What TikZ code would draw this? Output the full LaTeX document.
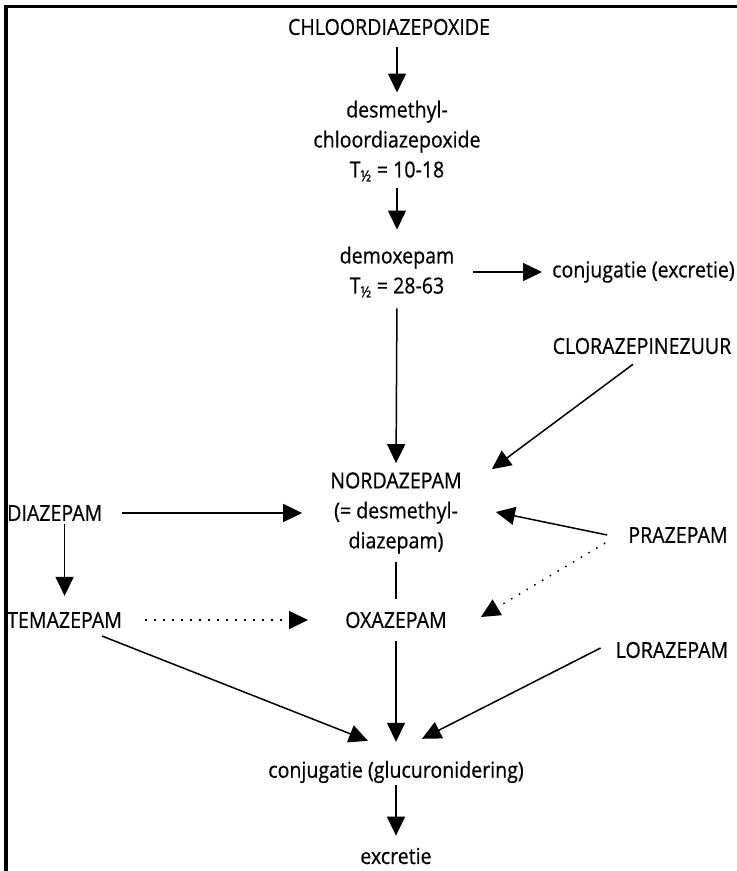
\documentclass[tikz,border=0pt]{standalone}
\usepackage{fontspec}
\setmainfont{Open Sans}[FakeStretch=0.89,FakeBold=0.6]
\usetikzlibrary{arrows.meta}

\tikzset{
  lbl/.style={inner sep=0pt, align=center},
  arr/.style={-{Triangle[width=18pt,length=19pt]}, line width=1.5pt},
  dotarr/.style={arr, dash pattern=on 1.5pt off 7.5pt},
  link/.style={line width=1.5pt}
}

\begin{document}
\begin{tikzpicture}[x=1pt,y=-1pt,font=\fontsize{22pt}{30pt}\selectfont]
\useasboundingbox (0,0) rectangle (737,871);
% frame
\draw[line width=3.5pt] (6,871) -- (6,6.5) -- (737,6.5);

% chloordiazepoxide chain
\node[lbl] (chlo) at (389,27) {CHLOORDIAZEPOXIDE};
\node[lbl] (desm) at (397,141) {desmethyl-\\chloordiazepoxide\\T\textsubscript{½} = 10-18};
\node[lbl] (demox) at (397,272) {demoxepam\\T\textsubscript{½} = 28-63};
\node[lbl, anchor=west] (conjex) at (552,272) {conjugatie (excretie)};
\node[lbl] (cloraz) at (642,346) {CLORAZEPINEZUUR};

% middle
\node[lbl] (nord) at (396,513) {NORDAZEPAM\\(= desmethyl-\\diazepam)};
\node[lbl, anchor=west] (diaz) at (7,513) {DIAZEPAM};
\node[lbl] (praz) at (678,535) {PRAZEPAM};
\node[lbl, anchor=west] (tema) at (7,620) {TEMAZEPAM};
\node[lbl] (oxa) at (396,620) {OXAZEPAM};
\node[lbl] (lora) at (672,650) {LORAZEPAM};

% bottom
\node[lbl] (conjgl) at (396,772) {conjugatie (glucuronidering)};
\node[lbl] (excr) at (396,856) {excretie};

% connectors
\draw[arr, shorten <=12pt, shorten >=8pt] (chlo.south -| desm) -- (desm.north);
\draw[arr, shorten <=7pt, shorten >=17pt] (desm.south) -- (demox.north);
\draw[arr, shorten <=19pt, shorten >=10pt] (demox.east) -- (conjex.west);
\draw[arr, shorten <=11pt, shorten >=9pt] (demox.south) -- (nord.north);
\draw[arr] ([xshift=-9pt,yshift=-10pt]cloraz.south) -- ([xshift=30pt,yshift=3pt]nord.north east);

\draw[arr, shorten <=20pt, shorten >=28pt] (diaz.east) -- (nord.west);
\draw[arr, shorten <=3pt, shorten >=16pt] (diaz.south -| tema) -- (tema.north);
\draw[dotarr, shorten <=23pt, shorten >=37pt] (tema.east) -- (oxa.west);
\draw[link, shorten <=8pt, shorten >=13pt] (nord.south) -- (oxa.north);

\draw[arr] ([xshift=-21pt]praz.west) -- ([xshift=34pt,yshift=1pt]nord.east);
\draw[dotarr] ([xshift=-23pt,yshift=-8pt]praz.west) -- ([xshift=34pt,yshift=3pt]oxa.east);

\draw[arr, shorten <=13pt, shorten >=19pt] (oxa.south) -- (conjgl.north);
\draw[arr] ([xshift=-20pt,yshift=-8pt]tema.south east) -- ([xshift=-28pt,yshift=20pt]conjgl.north);
\draw[arr] ([xshift=-15pt,yshift=2pt]lora.west) -- ([xshift=26pt,yshift=22pt]conjgl.north);
\draw[arr, shorten <=2pt, shorten >=12pt] (conjgl.south) -- (excr.north);
\end{tikzpicture}
\end{document}
